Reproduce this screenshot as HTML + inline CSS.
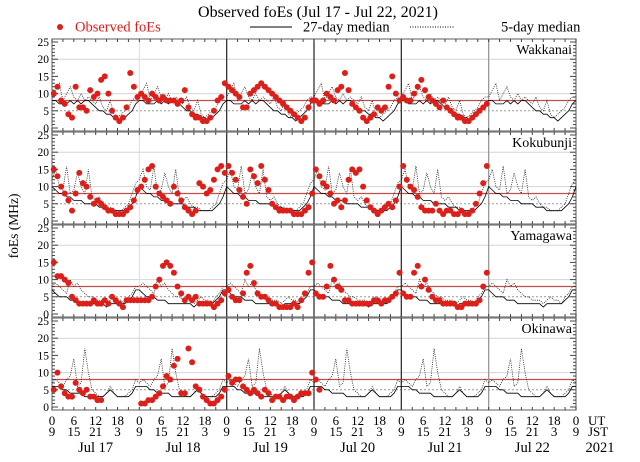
<!DOCTYPE html>
<html><head><meta charset="utf-8"><style>
body{margin:0;background:#fff}
svg, svg text{font-family:"Liberation Serif","DejaVu Serif","Times New Roman",serif}
</style></head><body>
<svg id="c" width="640" height="457" viewBox="0 0 640 457" font-family="'Liberation Serif','DejaVu Serif',serif">
<text x="318" y="17" text-anchor="middle" font-size="16">Observed foEs (Jul 17 - Jul 22, 2021)</text>
<g>
<circle cx="60" cy="27" r="3" fill="#d9201c"/>
<text x="75" y="31.5" font-size="14.5" fill="#d9201c">Observed foEs</text>
<line x1="250" y1="27" x2="292" y2="27" stroke="#000"/>
<text x="303" y="31.5" font-size="14.5">27-day median</text>
<line x1="410" y1="27" x2="455" y2="27" stroke="#000" stroke-dasharray="1,1.5"/>
<text x="501" y="31.5" font-size="14.5">5-day median</text>
</g>
<text transform="translate(18,226) rotate(-90)" text-anchor="middle" font-size="13.5">foEs (MHz)</text>
<g id="panels"></g>
<g id="xaxis"></g>
</svg>
<script>
const stations=["Wakkanai","Kokubunji","Yamagawa","Okinawa"];
const dayLabels=["Jul 17","Jul 18","Jul 19","Jul 20","Jul 21","Jul 22"];
const utTicks=["0","6","12","18"];
const jstTicks=["9","15","21","3"];
const yTicks=[0,5,10,15,20,25];
const refLine=8;
const N=null;
const obsW=[10,12,8,7,4,3,12,6,6,5,11,9,10,14,15,10,5,3,2,3,6,16,12,9,
10,9,8,10,9,8,9,8,8,8,7,8,11,6,4,3,3,2,2,3,5,8,9,13,
12,11,10,9,6,6,10,11,12,13,12,11,10,9,8,7,6,5,4,3,2,3,6,8,
8,7,8,10,9,8,11,12,16,11,7,6,5,3,2,3,4,6,5,6,12,15,10,8,
9,8,8,10,12,14,11,9,8,7,6,8,6,5,4,3,3,2,2,3,4,5,6,7];
const obsK=[15,13,10,8,6,3,8,14,11,10,7,5,6,5,4,3,3,2,2,2,3,4,6,9,
10,12,15,16,10,8,7,6,5,10,8,6,4,3,2,3,11,10,8,9,12,15,16,14,
16,14,12,9,7,5,15,13,11,16,12,9,5,4,3,3,3,3,2,2,2,3,4,8,
15,13,11,10,8,5,6,4,6,12,15,14,15,10,6,4,3,2,3,4,5,4,6,10,
16,12,10,9,7,4,3,3,3,5,3,2,3,3,2,2,3,2,2,3,5,8,11,16];
const obsY=[15,11,11,10,9,5,4,3,3,3,3,4,3,3,4,3,5,4,3,2,4,4,4,4,
4,4,4,5,8,10,14,15,14,12,8,6,4,5,4,5,3,3,3,3,2,3,4,6,
7,5,4,4,6,12,14,9,6,5,5,4,3,3,2,2,2,2,3,2,4,6,12,15,
6,5,5,8,14,10,8,7,4,4,3,3,3,3,3,3,4,4,3,4,4,5,6,12,
6,5,5,12,14,8,10,7,5,4,4,3,3,3,3,2,2,3,3,3,3,4,8,12];
const obsO=[5,10,6,4,3,3,7,5,4,5,3,3,2,2,N,N,N,N,N,N,N,N,N,N,
1,1,2,2,3,4,6,9,8,12,14,4,4,17,13,6,5,3,2,1,1,2,3,5,
9,7,8,8,6,5,4,5,4,3,5,4,2,3,3,2,3,3,2,3,4,4,4,10,
8,5];
const med27W=[8,8,7,7,7,8,7,8,7,8,8,7,6,5,5,4,4,3,3,2,3,4,5,7];
const med27K=[10,9,8,8,7,7,6,6,6,5,5,5,5,4,4,4,3,3,3,3,3,4,5,7];
const med27Y=[7,6,5,5,5,4,4,4,3,3,3,3,3,3,3,2,3,3,3,3,3,4,5,7];
const med27O=[6,6,6,5,5,4,4,4,4,3,3,3,3,3,3,4,5,4,3,3,3,3,4,6];
const med5W=[9,11,13,8,10,12,9,8,10,8,9,8,7,9,6,5,8,4,3,4,5,6,8,9];
const med5K=[12,15,10,9,16,8,9,14,10,8,15,7,6,7,5,4,4,3,3,3,4,5,8,11];
const med5Y=[8,9,8,7,6,10,8,9,7,6,5,5,4,4,4,3,4,5,4,4,3,5,6,8];
const med5O=[7,8,7,6,8,9,14,6,7,17,10,5,4,3,3,4,6,4,3,3,3,4,5,8];
const obs=[obsW,obsK,obsY,obsO];
const m27=[med27W,med27K,med27Y,med27O];
const m5=[med5W,med5K,med5Y,med5O];

const NS="http://www.w3.org/2000/svg";
const X0=52,X1=576,HOURS=144,BASE=[128,221,314,407],PXV=3.44;
const xs=h=>X0+(X1-X0)*h/HOURS;
const ys=(p,v)=>BASE[p]-v*PXV;
function mk(t,a,parent){const e=document.createElementNS(NS,t);for(const k in a)e.setAttribute(k,a[k]);parent.appendChild(e);return e;}
const root=document.getElementById('panels');
for(let p=0;p<4;p++){
  const g=mk('g',{},root);
  
  
  const top=BASE[p]-89,bot=BASE[p]+3;
  mk('rect',{x:X0,y:top,width:X1-X0,height:bot-top,fill:'#fff',stroke:'#777','stroke-width':1.2},g);
  [10,20].forEach(v=>mk('line',{x1:X0,x2:X1,y1:ys(p,v),y2:ys(p,v),stroke:'#d4d4d4'},g));
  mk('line',{x1:X0,x2:X1,y1:ys(p,5),y2:ys(p,5),stroke:'#999','stroke-dasharray':'2,2'},g);
  const rl=mk('line',{x1:X0,x2:X1,y1:ys(p,refLine),y2:ys(p,refLine),stroke:'#c0504d','stroke-width':1.2},g);
  
  
  for(let d=1;d<6;d++){
    const c=(d==1)?'#ddd':(d==5?'#999':'#333');
    mk('line',{x1:xs(d*24),x2:xs(d*24),y1:top,y2:bot,stroke:c,'stroke-width':d==1?1:1.3},g);
  }
  for(let h=0;h<=HOURS;h+=3){
    mk('line',{x1:xs(h),x2:xs(h),y1:top,y2:top+3,stroke:'#444'},g);
    mk('line',{x1:xs(h),x2:xs(h),y1:bot,y2:bot-3,stroke:'#444'},g);
  }
  for(let v=0;v<=25;v++){
    const L=v%5==0?6:3;
    mk('line',{x1:X0,x2:X0+L,y1:ys(p,v),y2:ys(p,v),stroke:'#444'},g);
    mk('line',{x1:X1,x2:X1-L,y1:ys(p,v),y2:ys(p,v),stroke:'#444'},g);
  }
  yTicks.forEach(v=>{const t=mk('text',{x:X0-3,y:ys(p,v)+4,'text-anchor':'end','font-size':11.5},g);t.textContent=v;
    
    });
  let d5='',d27='';
  for(let h=0;h<=HOURS;h++){
    const i=h%24;
    d5+=(h?'L':'M')+xs(h).toFixed(1)+','+ys(p,m5[p][i]).toFixed(1);
    d27+=(h?'L':'M')+xs(h).toFixed(1)+','+ys(p,m27[p][i]).toFixed(1);
  }
  const l5=mk('path',{d:d5,fill:'none',stroke:'#222','stroke-width':0.8,'stroke-dasharray':'1,1.2'},g);
  
  
  const l27=mk('path',{d:d27,fill:'none',stroke:'#000','stroke-width':0.8},g);
  
  
  obs[p].forEach((v,h)=>{if(v===null)return;
    const c=mk('circle',{cx:xs(h+0.5),cy:ys(p,v),r:3,fill:'#dd1f1a'},g);
    
    });
  const s=mk('text',{x:X1-4,y:top+15,'text-anchor':'end','font-size':14},g);s.textContent=stations[p];
  
  
}
const xa=document.getElementById('xaxis');
for(let d=0;d<=6;d++){for(let k=0;k<4;k++){
  if(d==6&&k>0)break;
  const h=d*24+k*6;
  const a=mk('text',{x:xs(h),y:425,'text-anchor':'middle','font-size':13},xa);a.textContent=utTicks[k];
  
  
  const b=mk('text',{x:xs(h),y:436,'text-anchor':'middle','font-size':13},xa);b.textContent=jstTicks[k];
  
  
}}
const u=mk('text',{x:588,y:425,'font-size':13},xa);u.textContent='UT';


const j=mk('text',{x:588,y:436,'font-size':13},xa);j.textContent='JST';


dayLabels.forEach((t,d)=>{const e=mk('text',{x:xs(d*24+12),y:452,'text-anchor':'middle','font-size':14.5},xa);e.textContent=t;
  
  });
const yr=mk('text',{x:600,y:452,'text-anchor':'middle','font-size':14.5},xa);yr.textContent='2021';


</script>
</body></html>
